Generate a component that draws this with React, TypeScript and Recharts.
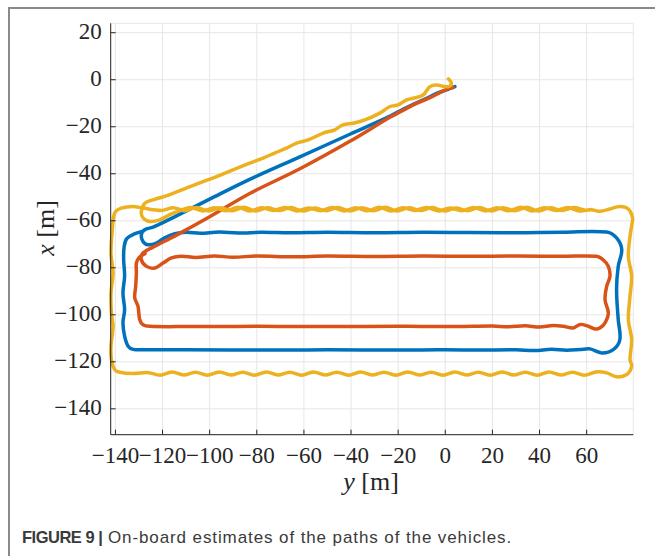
import React from 'react';
import { LineChart, Line, XAxis, YAxis, CartesianGrid } from 'recharts';

// horizontal axis is "y [m]", vertical axis is "x [m]"
const hTicks = [-140, -120, -100, -80, -60, -40, -20, 0, 20, 40, 60];
const vTicks = [-140, -120, -100, -80, -60, -40, -20, 0, 20];
const hDomain = [-142, 79.8];
const vDomain = [-151, 24];

// path points as [y, x] in metres
const bluePath = [
  [4.1, -2.9], [2.0, -3.7], [0.6, -4.3], [-3.7, -5.8], [-7.9, -7.9], [-13.6, -10.5], [-19.3, -13.3],
  [-26.4, -16.9], [-40.5, -23.2], [-61.7, -32.8], [-83.0, -42.4], [-100.0, -50.8], [-114.1, -57.9],
  [-124.0, -62.7], [-127.6, -63.8], [-129.0, -65.9], [-128.3, -68.8], [-126.2, -70.2], [-122.6, -69.5],
  [-119.1, -67.2], [-114.8, -65.5], [-110, -64.9], [-104, -65.3], [-96, -64.8], [-88, -65.2], [-78, -64.9],
  [-66, -65.1], [-50, -64.9], [-30, -65.1], [-10, -64.9], [10, -65.0], [30, -65.1], [50, -64.9],
  [68.5, -64.8], [72.7, -67.3], [74.9, -72.3], [73.4, -79.4], [72.7, -89.3], [73.4, -102.0], [74.1, -110.5],
  [71.3, -114.8], [66.4, -116.2], [61.4, -114.5], [57.2, -114.8], [51.5, -115.1], [45, -114.7], [38, -115.2],
  [30, -114.9], [15, -115.0], [0, -114.9], [-20, -115.0], [-50, -114.9], [-80, -115.0], [-110, -114.9],
  [-128, -114.9], [-132.5, -114.7], [-134.6, -113.4], [-136.1, -109.1], [-136.8, -103.4], [-136.1, -97.8],
  [-136.8, -90.7], [-136.1, -83.6], [-136.5, -76.5], [-136.3, -71.0], [-135.2, -67.6], [-132.2, -65.7],
  [-128.0, -64.3],
];

const redPath = [
  [3.4, -3.3], [1.1, -3.9], [-0.9, -4.8], [-5.8, -7.3], [-12.2, -10.1], [-16.4, -12.2], [-23.5, -16.0],
  [-40.5, -26.2], [-61.7, -37.9], [-83.0, -48.4], [-100.0, -58.3], [-114.1, -66.1], [-124.0, -71.2],
  [-128.3, -73.7], [-129.0, -76.6], [-126.8, -79.4], [-123.3, -80.1], [-119.8, -78.0], [-116.2, -75.8],
  [-112, -75.1], [-106, -75.6], [-98, -75.0], [-90, -75.5], [-80, -75.0], [-65, -75.3], [-50, -75.0],
  [-30, -75.2], [-10, -75.0], [10, -75.1], [30, -75.0], [50, -75.1], [64.2, -75.1], [67.0, -76.6],
  [69.2, -79.4], [69.9, -83.6], [68.5, -87.9], [67.8, -93.6], [69.2, -99.2], [67.8, -103.4], [65.6, -105.6],
  [63.5, -106.0], [60.0, -104.6], [57.2, -104.1], [54.3, -105.6], [50.1, -104.9], [45.8, -104.6],
  [40, -105.2], [34, -104.7], [27, -105.1], [20, -104.8], [5, -105.0], [-20, -104.9], [-50, -105.0],
  [-80, -104.9], [-110, -105.0], [-125.4, -104.9], [-128.3, -104.2], [-129.7, -102.0], [-130.4, -96.4],
  [-131.8, -92.8], [-131.4, -87.9], [-131.1, -82.2], [-131.1, -78.0], [-129.9, -75.6], [-127.4, -73.9],
];

const yellowPath = [
  [1.3, 0.4], [2.5, -1.2], [2.1, -2.6], [0.2, -3.0], [-3.7, -2.2], [-6.5, -2.9], [-9.4, -6.5], [-13.6, -7.9],
  [-16.4, -8.6], [-20.0, -10.7], [-23.5, -11.4], [-27.8, -14.2], [-34.1, -17.1], [-39.1, -18.5],
  [-43.4, -19.2], [-46.9, -21.3], [-51.8, -22.7], [-58.2, -25.6], [-63.1, -27.0], [-67.4, -29.1],
  [-72.4, -31.2], [-77.3, -33.3], [-83.0, -35.5], [-90.1, -38.3], [-97.1, -41.2], [-102.8, -43.3],
  [-109.9, -46.1], [-116.9, -48.9], [-124.0, -51.1], [-127.5, -52.5], [-129.0, -56.0], [-128.3, -58.8],
  [-125.4, -60.3], [-121.2, -59.6], [-116.9, -57.4], [-112.7, -55.7],
  // first lap, top edge heading east
  [-108, -54.4], [-103, -55.8], [-98, -54.5], [-93, -55.7], [-88, -54.3], [-83, -55.8], [-78, -54.5],
  [-73, -55.6], [-68, -54.4], [-63, -55.8], [-58, -54.6], [-53, -55.7], [-48, -54.4], [-43, -55.8],
  [-38, -54.5], [-33, -55.7], [-28, -54.3], [-23, -55.8], [-18, -54.5], [-13, -55.6], [-8, -54.4],
  [-3, -55.8], [2, -54.6], [7, -55.7], [12, -54.4], [17, -55.8], [22, -54.5], [27, -55.7], [32, -54.3],
  [37, -55.8], [42, -54.5], [47, -55.6], [52, -54.4], [57, -55.8], [62.1, -55.3], [65.6, -56.0],
  [69.9, -55.0], [74.1, -53.9], [77.7, -55.0], [79.5, -58.8],
  // right edge down
  [79.2, -61.5], [78.4, -66.7], [77.7, -75.1], [79.1, -83.6], [78.4, -92.1], [77.7, -102.0], [79.1, -110.5],
  [78.4, -119.0], [79.1, -121.9], [77.0, -125.4], [72.7, -126.4], [68.5, -124.7],
  // bottom edge heading west
  [64, -124.3], [59, -125.7], [54, -124.4], [49, -125.6], [44, -124.3], [39, -125.7], [34, -124.4],
  [29, -125.6], [24, -124.3], [19, -125.7], [14, -124.4], [9, -125.6], [4, -124.3], [-1, -125.7],
  [-6, -124.4], [-11, -125.6], [-16, -124.3], [-21, -125.7], [-26, -124.4], [-31, -125.6], [-36, -124.3],
  [-41, -125.7], [-46, -124.4], [-51, -125.6], [-56, -124.3], [-61, -125.7], [-66, -124.4], [-71, -125.6],
  [-76, -124.3], [-81, -125.7], [-86, -124.4], [-91, -125.6], [-96, -124.3], [-101, -125.7], [-106, -124.4],
  [-111, -125.6], [-116, -124.3], [-121, -125.7], [-126, -124.6], [-132.5, -125.0], [-138.2, -124.4],
  [-140.3, -123.3],
  // left edge up
  [-141.7, -119.0], [-141.9, -113.4], [-141.0, -104.9], [-141.7, -99.2], [-141.9, -90.7], [-141.0, -82.2],
  [-141.9, -73.7], [-141.3, -63.8], [-140.3, -56.7], [-137.5, -54.6], [-132.5, -53.9], [-128.3, -54.6],
  // second lap along the top
  [-120.5, -55.6], [-115.5, -54.5], [-110.5, -55.7], [-105.5, -54.4], [-100.5, -55.8], [-95.5, -54.5],
  [-90.5, -55.7], [-85.5, -54.3], [-80.5, -55.8], [-75.5, -54.5], [-70.5, -55.6], [-65.5, -54.4],
  [-60.5, -55.8], [-55.5, -54.6], [-50.5, -55.7], [-45.5, -54.4], [-40.5, -55.8], [-35.5, -54.5],
  [-30.5, -55.7], [-25.5, -54.3], [-20.5, -55.8], [-15.5, -54.5], [-10.5, -55.6], [-5.5, -54.4],
  [-0.5, -55.8], [4.5, -54.6], [9.5, -55.7], [14.5, -54.4], [19.5, -55.8], [24.5, -54.5], [29.5, -55.7],
  [34.5, -54.3], [39.5, -55.8], [44.5, -54.5], [49.5, -55.6], [54.5, -54.4], [59.5, -55.5], [62, -55.2],
];

const toRows = (pts: number[][]) => pts.map(([y, x]) => ({ y, x }));

// smooth curve through the points, tangent along neighbours, handles 1/3 of segment length
function smoothPath(context: any) {
  let pts: number[][] = [];
  return {
    areaStart() {},
    areaEnd() {},
    lineStart() {
      pts = [];
    },
    point(x: number, y: number) {
      pts.push([+x, +y]);
    },
    lineEnd() {
      const n = pts.length;
      if (!n) return;
      const dir = pts.map((_, i) => {
        const a = pts[Math.max(0, i - 1)];
        const b = pts[Math.min(n - 1, i + 1)];
        const dx = b[0] - a[0];
        const dy = b[1] - a[1];
        const l = Math.hypot(dx, dy) || 1;
        return [dx / l, dy / l];
      });
      context.moveTo(pts[0][0], pts[0][1]);
      for (let i = 0; i < n - 1; i++) {
        const p = pts[i];
        const q = pts[i + 1];
        const d = Math.hypot(q[0] - p[0], q[1] - p[1]) / 3;
        context.bezierCurveTo(
          p[0] + dir[i][0] * d, p[1] + dir[i][1] * d,
          q[0] - dir[i + 1][0] * d, q[1] - dir[i + 1][1] * d,
          q[0], q[1],
        );
      }
    },
  };
}

const axisColor = '#262626';
const serif = '"Liberation Serif", "Times New Roman", serif';
const fmt = (v: number) => (v < 0 ? `\u2212${-v}` : `${v}`);

function BottomTick({ x, y, payload }: any) {
  return (
    <g>
      <line x1={x} x2={x} y1={y} y2={y - 5} stroke={axisColor} />
      <text x={x} y={y + 28} textAnchor="middle" fontFamily={serif} fontSize={23} fill={axisColor}>
        {fmt(payload.value)}
      </text>
    </g>
  );
}

function LeftTick({ x, y, payload }: any) {
  return (
    <g>
      <line x1={x} x2={x + 5} y1={y} y2={y} stroke={axisColor} />
      <text x={x - 9} y={y + 6.5} textAnchor="end" fontFamily={serif} fontSize={23} fill={axisColor}>
        {fmt(payload.value)}
      </text>
    </g>
  );
}

function TopTick({ x, y }: any) {
  return <line x1={x} x2={x} y1={y} y2={y + 5} stroke={axisColor} />;
}

function RightTick({ x, y }: any) {
  return <line x1={x} x2={x - 5} y1={y} y2={y} stroke={axisColor} />;
}

const series = [
  { name: 'blue', pts: bluePath, color: '#0072BD' },
  { name: 'red', pts: redPath, color: '#D95319' },
  { name: 'yellow', pts: yellowPath, color: '#EDB120' },
];

export default function App() {
  return (
    <div style={{ position: 'absolute', left: 0, top: 0, width: 655, height: 556, background: '#fff', overflow: 'hidden' }}>
      <div
        style={{
          position: 'absolute', left: 8, top: 7, width: 660, height: 560,
          borderLeft: '2px solid #8a8a8a', borderTop: '2px solid #8a8a8a',
        }}
      />
      <div style={{ position: 'absolute', left: 0, top: 0 }}>
        <LineChart width={655} height={500} margin={{ top: 23.3, right: 21.7, bottom: 25.3, left: 0 }}>
          <CartesianGrid stroke="#e6e6e6" strokeWidth={1} />
          <XAxis
            dataKey="y" type="number" domain={hDomain} ticks={hTicks} height={40}
            tickLine={false} tickSize={0} tickMargin={0} tick={<BottomTick />}
            axisLine={{ stroke: axisColor }} interval={0}
          />
          <XAxis
            xAxisId="top" orientation="top" type="number" domain={hDomain} ticks={hTicks} height={0}
            tickLine={false} tickSize={0} tickMargin={0} tick={<TopTick />}
            axisLine={{ stroke: axisColor }} interval={0}
          />
          <YAxis
            type="number" domain={vDomain} ticks={vTicks} width={110.7}
            tickLine={false} tickSize={0} tickMargin={0} tick={<LeftTick />}
            axisLine={{ stroke: axisColor }} interval={0}
          />
          <YAxis
            yAxisId="right" orientation="right" type="number" domain={vDomain} ticks={vTicks} width={0}
            tickLine={false} tickSize={0} tickMargin={0} tick={<RightTick />}
            axisLine={{ stroke: axisColor }} interval={0}
          />
          {series.map((s) => (
            <Line
              key={s.name}
              data={toRows(s.pts)}
              dataKey="x"
              type={smoothPath as any}
              stroke={s.color}
              strokeWidth={3.5}
              strokeLinejoin="round"
              strokeLinecap="round"
              dot={false}
              activeDot={false}
              isAnimationActive={false}
            />
          ))}
        </LineChart>
      </div>
      <div
        style={{
          position: 'absolute', left: 46, top: 228, transform: 'translate(-50%, -50%) rotate(-90deg)',
          fontFamily: serif, fontSize: 26, lineHeight: 1, whiteSpace: 'nowrap', color: axisColor,
        }}
      >
        <i>x</i> [m]
      </div>
      <div
        style={{
          position: 'absolute', left: 371, top: 482, transform: 'translate(-50%, -50%)',
          fontFamily: serif, fontSize: 26, lineHeight: 1, whiteSpace: 'nowrap', color: axisColor,
        }}
      >
        <i>y</i> [m]
      </div>
      <div
        style={{
          position: 'absolute', left: 22, top: 527, fontFamily: '"Liberation Sans", Arial, sans-serif',
          fontSize: 17, lineHeight: '20px', whiteSpace: 'nowrap', color: '#3a3a3a', letterSpacing: 0.9,
        }}
      >
        <b style={{ fontSize: 16.5, letterSpacing: -0.5 }}>FIGURE 9 |</b> On-board estimates of the paths of the vehicles.
      </div>
    </div>
  );
}
